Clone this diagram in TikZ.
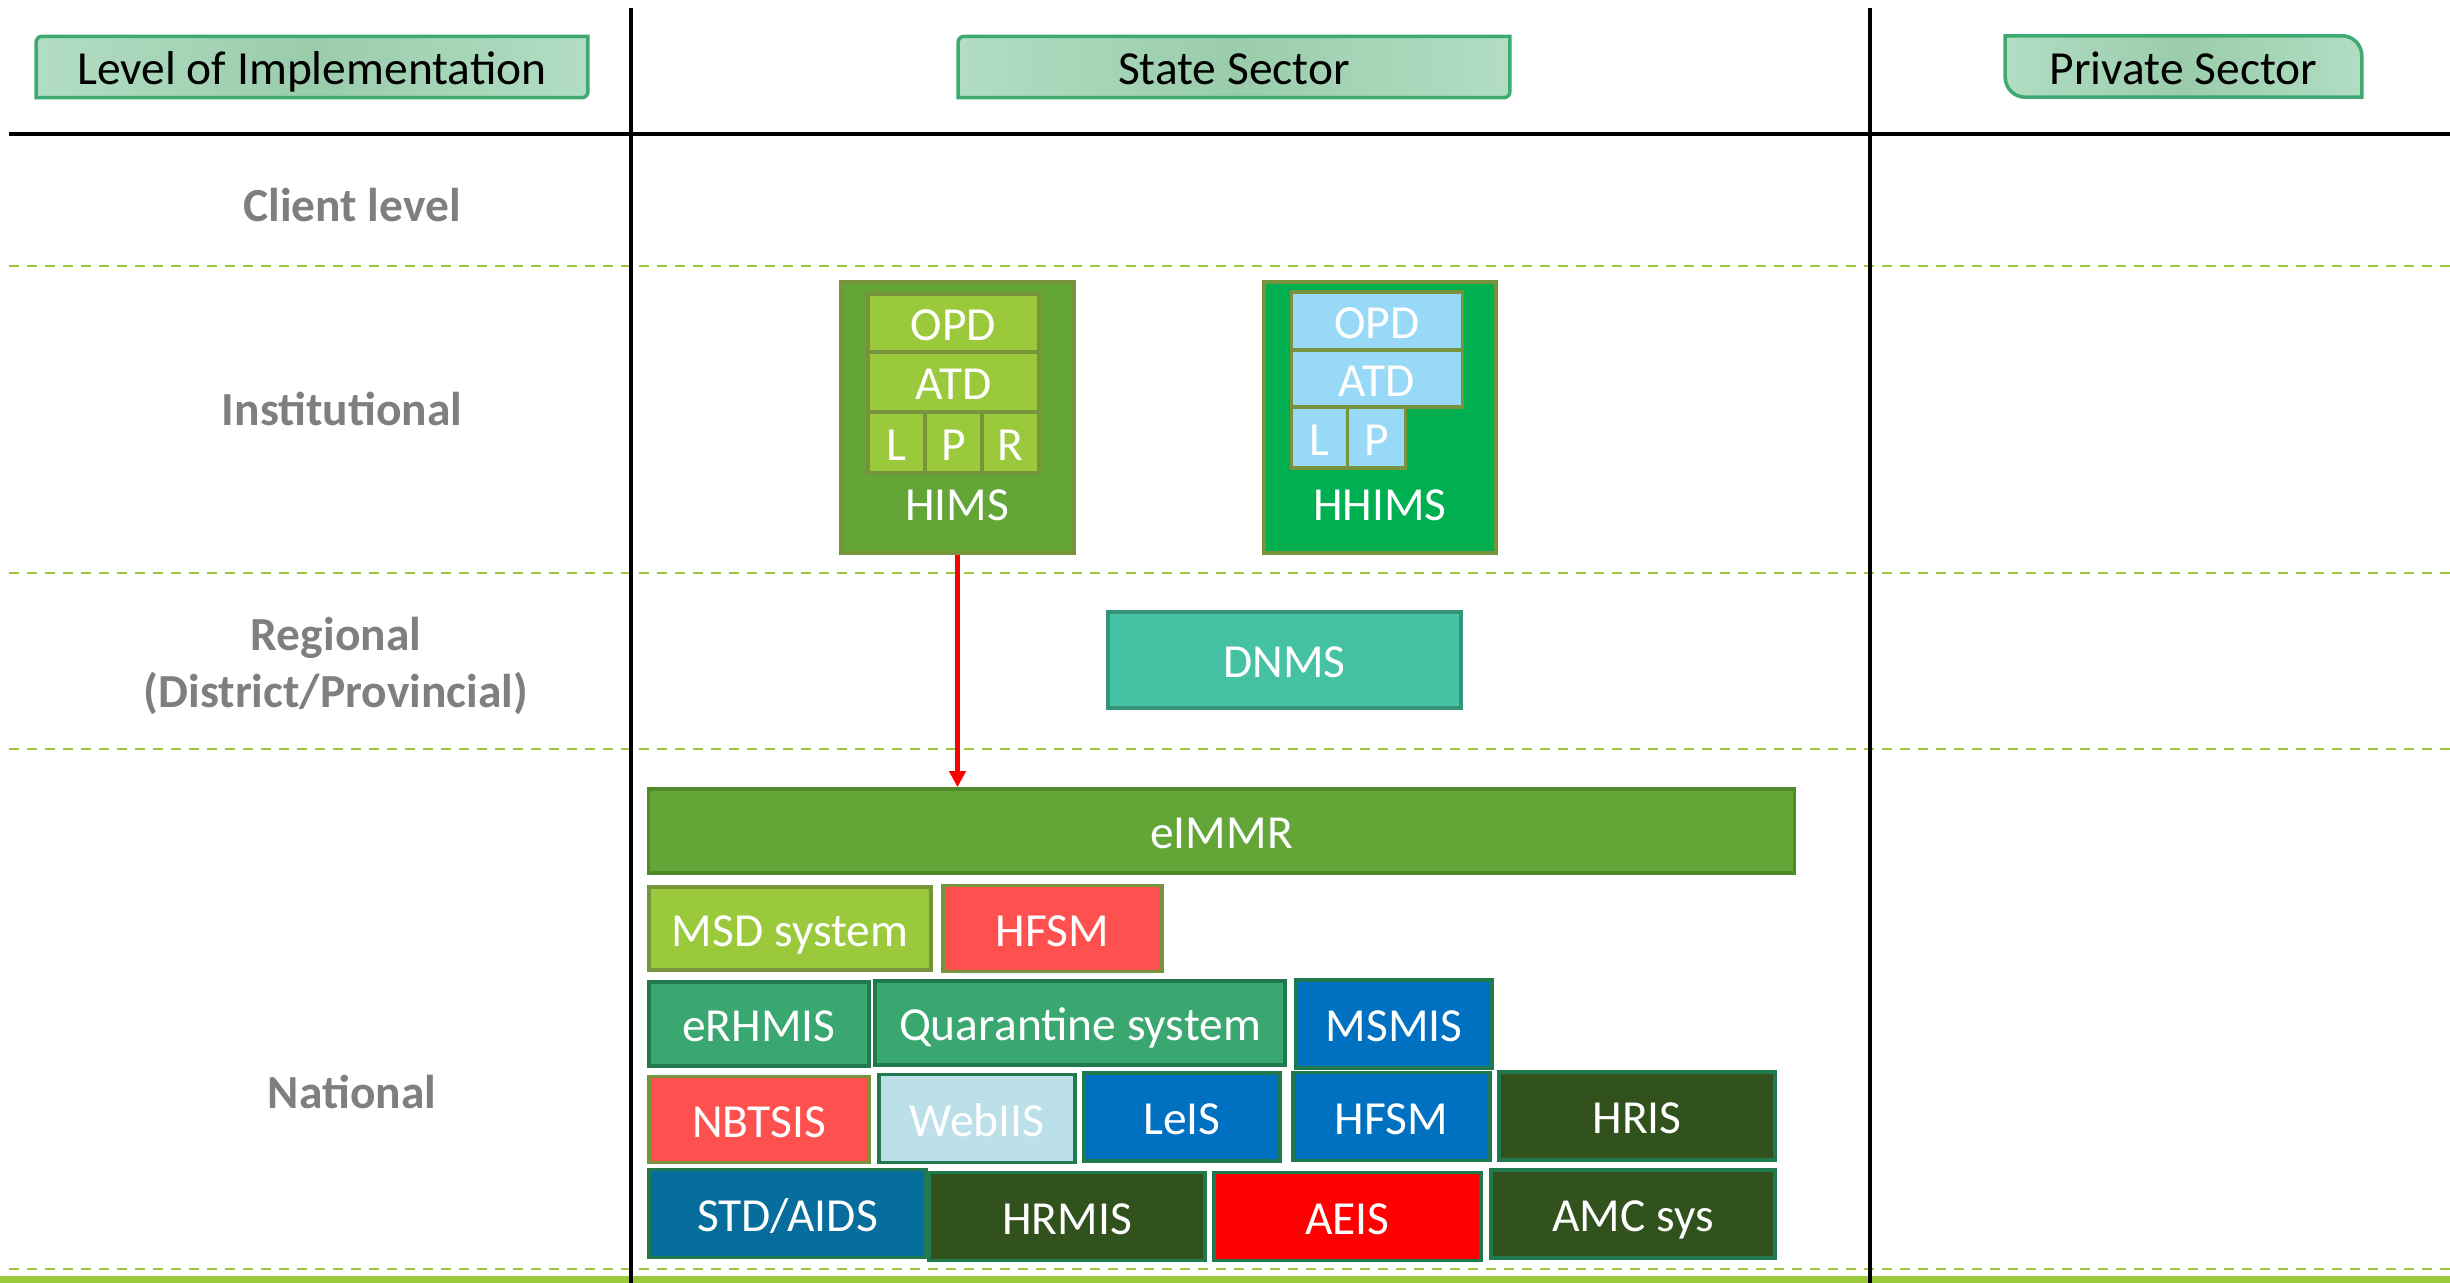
\documentclass[tikz,border=0pt]{standalone}
\usepackage{fontspec}
\setmainfont{Carlito}
\usetikzlibrary{positioning,arrows.meta,backgrounds}
\definecolor{hdrlight}{HTML}{B2DDC3}
\definecolor{hdrmid}{HTML}{9ACCAB}
\definecolor{hdrline}{HTML}{3DAA72}
\definecolor{labelgray}{HTML}{7F7F7F}
\definecolor{sepgreen}{HTML}{9ACA3C}
\definecolor{limegreen}{HTML}{9ACA3C}
\definecolor{grassgreen}{HTML}{63A537}
\definecolor{framegreen}{HTML}{77933C}
\definecolor{brightgreen}{HTML}{00B050}
\definecolor{skyblue}{HTML}{97D9F6}
\definecolor{seagreen}{HTML}{3AA771}
\definecolor{tealbox}{HTML}{45C1A4}
\definecolor{tealline}{HTML}{359376}
\definecolor{salmon}{HTML}{FF5050}
\definecolor{sysblue}{HTML}{0070C0}
\definecolor{paleblue}{HTML}{BBE0EA}
\definecolor{darkgreen}{HTML}{31521C}
\definecolor{steelblue}{HTML}{066D9C}
\definecolor{boxline}{HTML}{217A4E}
\definecolor{eimmrline}{HTML}{4E8A2A}

\begin{document}
\begin{tikzpicture}[x=0.01cm,y=-0.01cm,
    font=\fontsize{13.5}{16.2}\selectfont,
    hdrbox/.style={minimum height=0.6cm, inner sep=0pt, text height=10pt, text depth=0pt},
    hdrframe/.style={draw=hdrline, line width=1pt, left color=hdrlight, right color=hdrlight, middle color=hdrmid},
    levellabel/.style={text=labelgray, font=\fontsize{13.5}{16.2}\selectfont\bfseries, align=center},
    sysbox/.style={fill=#1, draw=boxline, line width=1pt, text=white, inner sep=0pt, minimum height=0.86cm, text height=10pt, text depth=0pt},
    innerbox/.style={fill=#1, draw=framegreen, line width=1pt, text=white, inner sep=0pt, outer sep=0pt, text height=10pt, text depth=0pt},
    sepline/.style={sepgreen, line width=0.8pt, dash pattern=on 1mm off 0.8mm},
    flowarrow/.style={red, line width=1.2pt, -{Triangle[length=1.6mm,width=1.6mm]}}]
  \useasboundingbox (0,0) rectangle (2450,1283);

  % table rules
  \fill[limegreen] (0,1276) rectangle (2450,1283);
  \foreach \yy in {266,573,749,1269}
    \draw[sepline] (9,\yy) -- (2450,\yy);
  \draw[line width=1pt] (9,134) -- (2450,134);
  \draw[line width=1.1pt] (631,8) -- (631,1283);
  \draw[line width=1.1pt] (1870,8) -- (1870,1283);

  % headers
  \node[hdrbox, minimum width=5.5cm] (lvl) at (312,67) {Level of Implementation};
  \node[hdrbox, minimum width=5.5cm] (state) at (1234,67) {State Sector};
  \node[hdrbox, minimum width=3.55cm] (private) at (2183.5,66.5) {Private Sector};
  \begin{scope}[on background layer]
    \foreach \n in {lvl,state}
      \path[hdrframe] ([xshift=0.06cm]\n.north west) -- (\n.north east)
        -- ([yshift=0.06cm]\n.south east) arc[start angle=0,end angle=-90,radius=0.06cm]
        -- (\n.south west) -- ([yshift=-0.06cm]\n.north west)
        arc[start angle=180,end angle=90,radius=0.06cm] -- cycle;
    \path[hdrframe] (private.north west) -- ([xshift=-0.2cm]private.north east)
      arc[start angle=90,end angle=0,radius=0.2cm] -- (private.south east)
      -- ([xshift=0.2cm]private.south west) arc[start angle=270,end angle=180,radius=0.2cm] -- cycle;
  \end{scope}

  % levels
  \node[levellabel] (client) at (352,205) {Client level};
  \node[levellabel] (inst) at (342,409) {Institutional};
  \node[levellabel] (regional) at (336,666) {Regional\\(District/Provincial)};
  \node[levellabel] (national) at (352,1092) {National};

  % HIMS
  \node[fill=grassgreen, draw=framegreen, line width=1pt, minimum width=2.33cm, minimum height=2.71cm] (hims) at (957.5,417.5) {};
  \node[innerbox=limegreen, minimum width=1.71cm, minimum height=0.58cm] (himsopd) at (953.5,323) {OPD};
  \node[innerbox=limegreen, minimum width=1.71cm, minimum height=0.6cm, below=0pt of himsopd] (himsatd) {ATD};
  \node[innerbox=limegreen, minimum width=0.57cm, minimum height=0.61cm, anchor=north west] (himsl) at (himsatd.south west) {L};
  \node[innerbox=limegreen, minimum width=0.57cm, minimum height=0.61cm, right=0pt of himsl] (himsp) {P};
  \node[innerbox=limegreen, minimum width=0.57cm, minimum height=0.61cm, right=0pt of himsp] (himsr) {R};
  \node[text=white] (himsname) at (957,505) {HIMS};

  % HHIMS
  \node[fill=brightgreen, draw=framegreen, line width=1pt, minimum width=2.32cm, minimum height=2.71cm] (hhims) at (1380,417.5) {};
  \node[innerbox=skyblue, minimum width=1.71cm, minimum height=0.58cm] (hhimsopd) at (1377,321) {OPD};
  \node[innerbox=skyblue, minimum width=1.71cm, minimum height=0.57cm, below=0pt of hhimsopd] (hhimsatd) {ATD};
  \node[innerbox=skyblue, minimum width=0.56cm, minimum height=0.61cm, anchor=north west] (hhimsl) at (hhimsatd.south west) {L};
  \node[innerbox=skyblue, minimum width=0.58cm, minimum height=0.61cm, right=0pt of hhimsl] (hhimsp) {P};
  \node[text=white] (hhimsname) at (1380,505) {HHIMS};

  % regional
  \node[sysbox=tealbox, draw=tealline, minimum width=3.53cm, minimum height=0.96cm] (dnms) at (1284.5,660) {DNMS};

  % national
  \node[sysbox=grassgreen, draw=eimmrline, minimum width=11.45cm, minimum height=0.84cm] (eimmr) at (1221.5,831) {eIMMR};
  \node[sysbox=limegreen, draw=framegreen, minimum width=2.82cm, minimum height=0.83cm] (msd) at (790,928.5) {MSD system};
  \node[sysbox=salmon, draw=framegreen, minimum width=2.19cm] (hfsmred) at (1052.5,928.5) {HFSM};
  \node[sysbox=seagreen, minimum width=2.2cm, minimum height=0.84cm] (erhmis) at (759,1024) {eRHMIS};
  \node[sysbox=seagreen, minimum width=4.1cm, minimum height=0.84cm] (quar) at (1080,1023) {Quarantine system};
  \node[sysbox=sysblue, minimum width=1.96cm, minimum height=0.88cm] (msmis) at (1394,1024) {MSMIS};
  \node[sysbox=salmon, draw=framegreen, minimum width=2.2cm] (nbtsis) at (759,1119.5) {NBTSIS};
  \node[sysbox=paleblue, minimum width=1.96cm, minimum height=0.88cm] (webiis) at (977,1118.5) {WebIIS};
  \node[sysbox=sysblue, minimum width=1.96cm, minimum height=0.88cm] (leis) at (1182,1117) {LeIS};
  \node[sysbox=sysblue, minimum width=1.97cm, minimum height=0.88cm] (hfsmblue) at (1391.5,1116.5) {HFSM};
  \node[sysbox=darkgreen, minimum width=2.76cm, minimum height=0.88cm] (hris) at (1637,1116) {HRIS};
  \node[sysbox=steelblue, minimum width=2.77cm, minimum height=0.88cm] (stdaids) at (787.5,1213.5) {STD/AIDS};
  \node[sysbox=darkgreen, minimum width=2.76cm, minimum height=0.88cm] (hrmis) at (1067,1216.5) {HRMIS};
  \node[sysbox=red, minimum width=2.67cm, minimum height=0.88cm] (aeis) at (1347.5,1216.5) {AEIS};
  \node[sysbox=darkgreen, minimum width=2.84cm, minimum height=0.88cm] (amc) at (1633,1214) {AMC sys};

  \draw[flowarrow] (hims.south) -- (hims.south |- eimmr.north);
\end{tikzpicture}
\end{document}
